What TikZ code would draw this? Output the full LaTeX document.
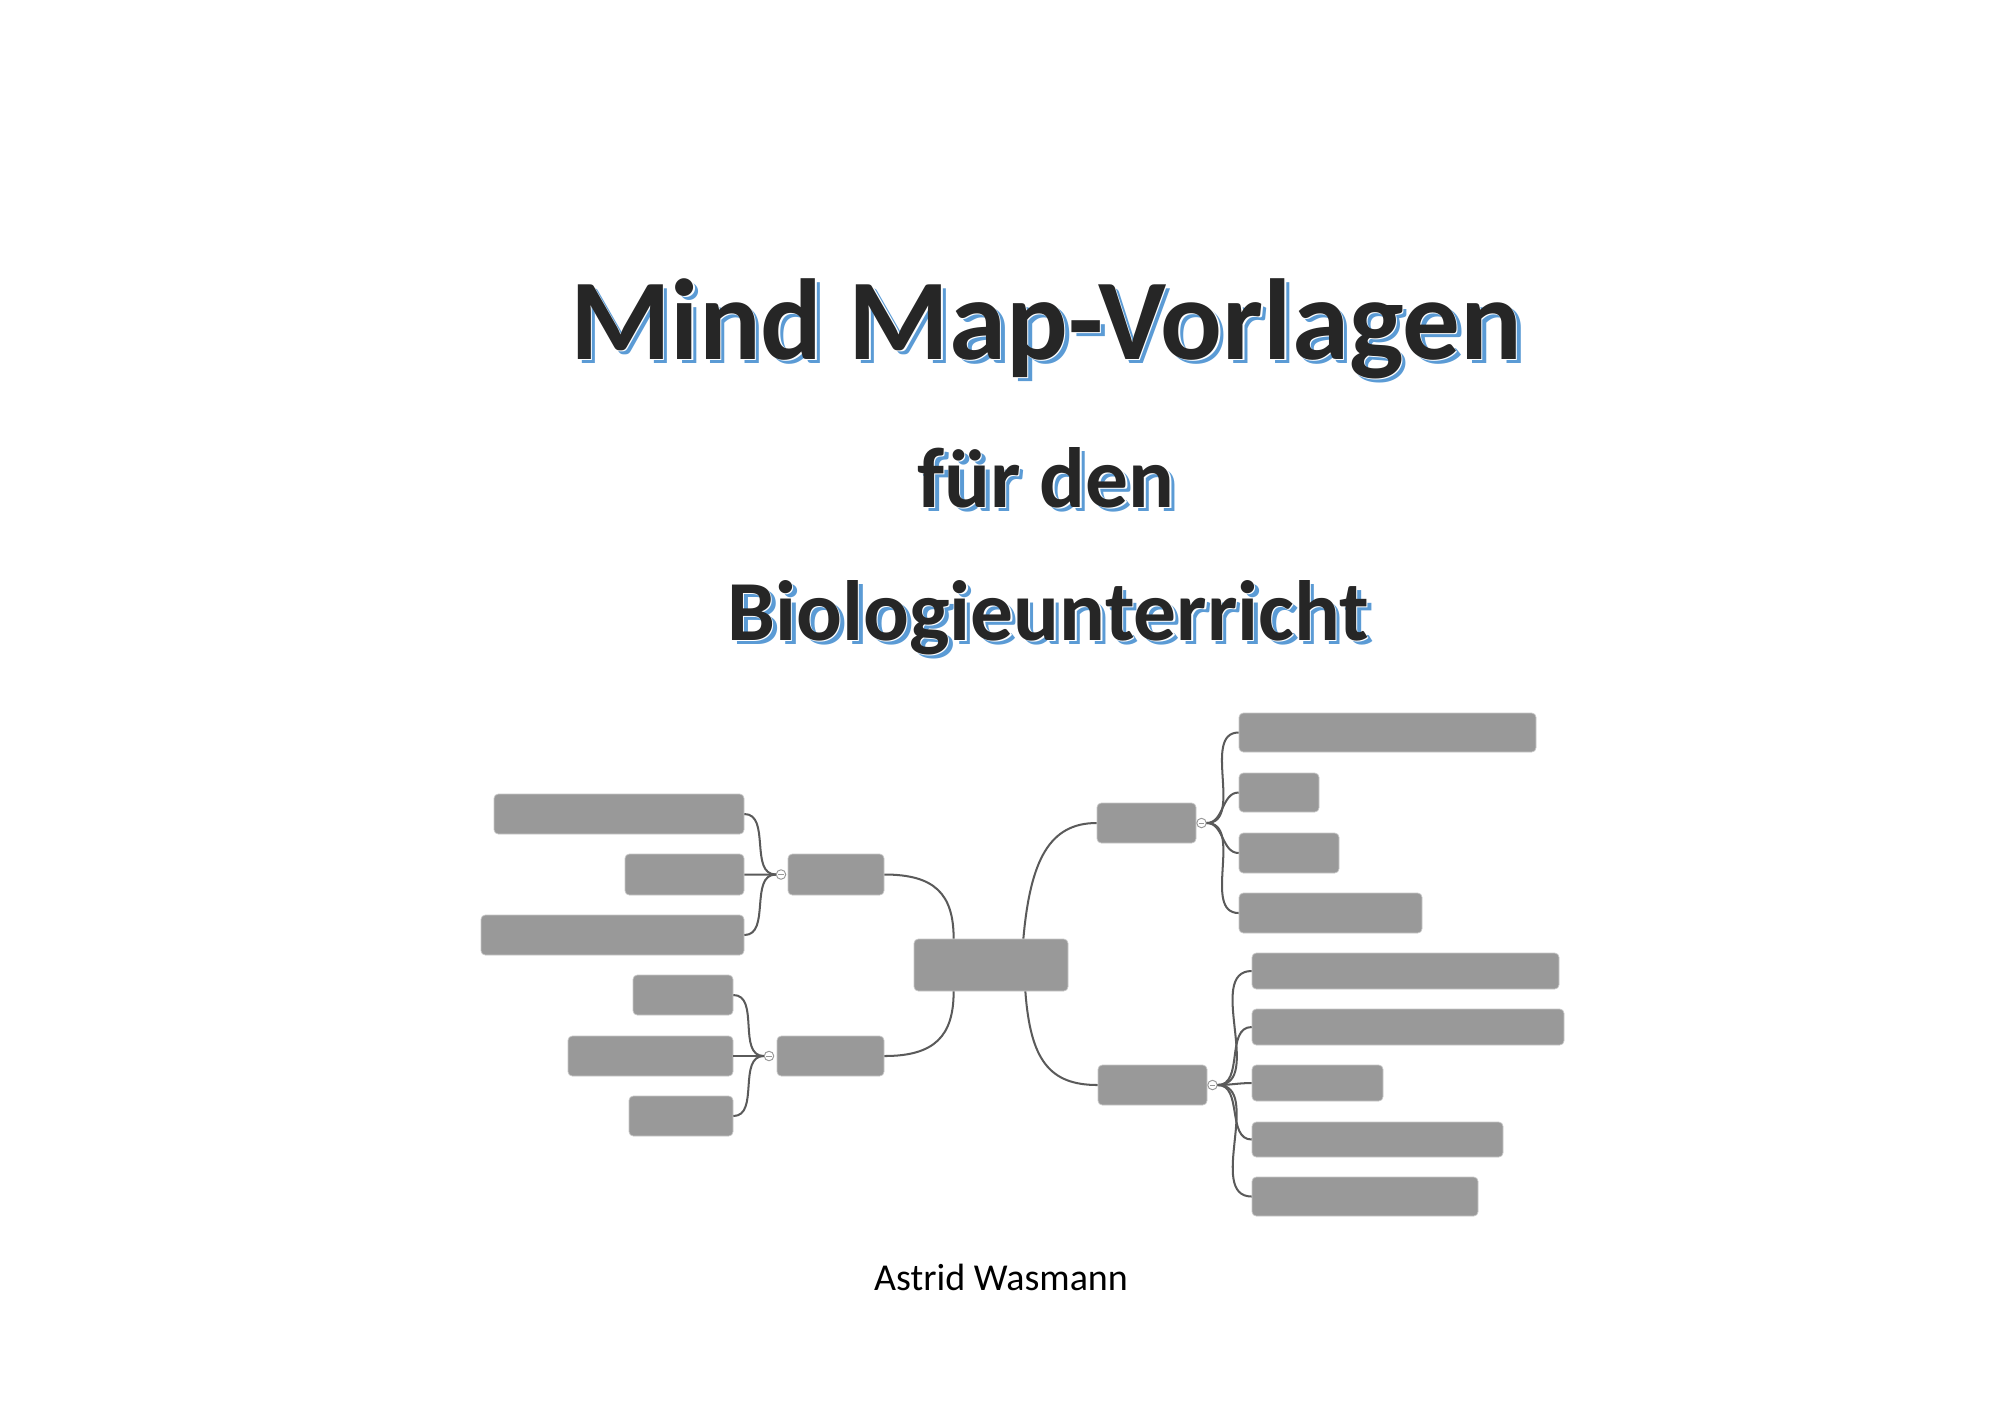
\documentclass[tikz,border=0pt]{standalone}
\usepackage{fontspec}
\setmainfont{Carlito}
\usetikzlibrary{calc,fit}
\definecolor{titledark}{HTML}{262626}
\definecolor{titleblue}{HTML}{5B9BD5}
\definecolor{boxgray}{HTML}{999999}
\definecolor{linegray}{HTML}{5A5A5A}
\newcommand{\shadowed}[1]{\leavevmode
  \rlap{\kern2pt\raisebox{-2pt}{\color{titleblue}#1}}%
  \rlap{\kern0.6pt\raisebox{-0.6pt}{\color{white}#1}}%
  {\color{titledark}#1}}

\begin{document}
\begin{tikzpicture}[x=0.421pt, y=-0.421pt,
  heading/.style={anchor=base, inner sep=0pt, font=\fontsize{48.5}{58}\selectfont\bfseries},
  subheading/.style={heading, font=\fontsize{36}{44}\selectfont\bfseries},
  author/.style={anchor=base, inner sep=0pt, font=\fontsize{16}{19}\selectfont},
  topic/.style={draw=black!22, line width=0.3pt, fill=boxgray, rounded corners=1.8pt, inner sep=0pt},
  fold/.style={circle, draw=black!40, fill=white, line width=0.4pt, minimum size=4pt, inner sep=0pt,
    path picture={\draw[black!40, line width=0.4pt] ([xshift=-1.1pt]path picture bounding box.center) -- ([xshift=1.1pt]path picture bounding box.center);}},
  link/.style={draw=linegray, line width=0.85pt}]
	\useasboundingbox (0,0) rectangle (2000,1414);
	% title
	\node[heading] (title) at (1046,359) {\shadowed{Mind Map-Vorlagen}};
	\node[subheading] (sub1) at (1046,507) {\shadowed{für den}};
	\node[subheading] (sub2) at (1048,640) {\shadowed{Biologieunterricht}};
	\node[author] (author) at (1001,1290) {Astrid Wasmann};
	% mind map
	\node[topic, fit={(914,939) (1068,991)}] (root) {};
	\node[topic, fit={(788,854) (884,895)}] (b1) {};
	\node[topic, fit={(777,1036) (884,1076)}] (b2) {};
	\node[topic, fit={(1097,803) (1196,843)}] (b3) {};
	\node[topic, fit={(1098,1065) (1207,1105)}] (b4) {};
	\node[topic, fit={(494,794) (744,834)}] (l1) {};
	\node[topic, fit={(625,854) (744,895)}] (l2) {};
	\node[topic, fit={(481,915) (744,955)}] (l3) {};
	\node[topic, fit={(633,975) (733,1015)}] (m1) {};
	\node[topic, fit={(568,1036) (733,1076)}] (m2) {};
	\node[topic, fit={(629,1096) (733,1136)}] (m3) {};
	\node[topic, fit={(1239,713) (1536,752)}] (r1) {};
	\node[topic, fit={(1239,773) (1319,812)}] (r2) {};
	\node[topic, fit={(1239,833) (1339,873)}] (r3) {};
	\node[topic, fit={(1239,893) (1422,933)}] (r4) {};
	\node[topic, fit={(1252,953) (1559,989)}] (s1) {};
	\node[topic, fit={(1252,1009) (1564,1045)}] (s2) {};
	\node[topic, fit={(1252,1065) (1383,1101)}] (s3) {};
	\node[topic, fit={(1252,1122) (1503,1157)}] (s4) {};
	\node[topic, fit={(1252,1177) (1478,1216)}] (s5) {};
	\node[fold] (f1) at (781,874.5) {};
	\node[fold] (f2) at (769,1056) {};
	\node[fold] (f3) at (1201.5,823) {};
	\node[fold] (f4) at (1212.5,1085) {};
	\draw[link] (b1.east) .. controls +(50,0) and +(0,-45) .. ($(root.north west)+(40,0)$);
	\draw[link] ($(root.south west)+(40,0)$) .. controls +(0,45) and +(50,0) .. (b2.east);
	\draw[link] ($(root.north east)+(-45,0)$) .. controls +(7,-79) and +(-47,0) .. (b3.west);
	\draw[link] ($(root.south east)+(-43,0)$) .. controls +(5,69) and +(-48,0) .. (b4.west);
	\path[link]
		(l1.east) edge[out=0, in=180] (f1.west)
		(l2.east) edge (f1.west)
		(l3.east) edge[out=0, in=180] (f1.west)
		(m1.east) edge[out=0, in=180] (f2.west)
		(m2.east) edge (f2.west)
		(m3.east) edge[out=0, in=180] (f2.west)
		(f3.east) edge[out=0, in=180] (r1.west) edge[out=0, in=180] (r2.west)
			edge[out=0, in=180] (r3.west) edge[out=0, in=180] (r4.west)
		(f4.east) edge[out=0, in=180] (s1.west) edge[out=0, in=180] (s2.west)
			edge[out=0, in=180] (s3.west) edge[out=0, in=180] (s4.west)
			edge[out=0, in=180] (s5.west);
\end{tikzpicture}
\end{document}
